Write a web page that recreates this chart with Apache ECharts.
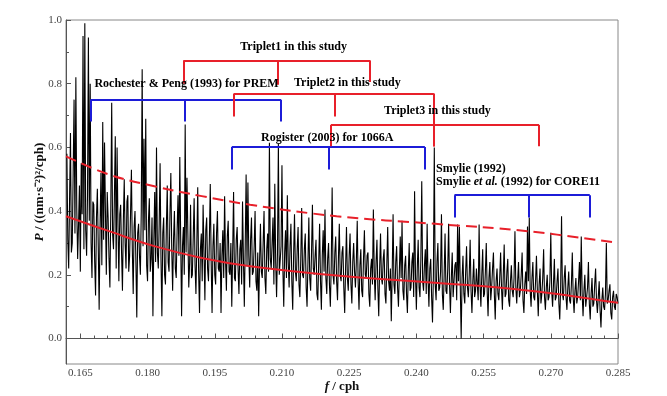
<!DOCTYPE html>
<html>
<head>
<meta charset="utf-8">
<script src="https://cdn.jsdelivr.net/npm/echarts@6/dist/echarts.min.js"></script>
<style>
  html, body { margin: 0; padding: 0; background: #fff; }
  #chart { width: 667px; height: 396px; }
</style>
</head>
<body>
<div id="chart"></div>
<script>
// spectrum: evenly spaced frequency bins (cph), power
const freqStart = 0.162;
const freqStep = 0.0002;
const power = [
  0.58, 0.31, 0.22, 0.44, 0.645, 0.27, 0.30, 0.52, 0.75, 0.33, 0.82, 0.41, 0.25, 0.36, 0.48, 0.21, 0.55, 0.39, 0.95, 0.28,
  0.99, 0.34, 0.26, 0.45, 0.945, 0.37, 0.80, 0.30, 0.19, 0.43, 0.42, 0.24, 0.135, 0.38, 0.47, 0.29, 0.09, 0.35, 0.52, 0.23,
  0.68, 0.31, 0.615, 0.40, 0.20, 0.46, 0.38, 0.25, 0.16, 0.41, 0.74, 0.33, 0.28, 0.44, 0.635, 0.22, 0.60, 0.36, 0.18, 0.39,
  0.42, 0.27, 0.15, 0.37, 0.50, 0.30, 0.22, 0.43, 0.45, 0.21, 0.26, 0.39, 0.53, 0.28, 0.14, 0.35, 0.40, 0.24, 0.066, 0.33,
  0.36, 0.26, 0.20, 0.40, 0.845, 0.29, 0.627, 0.34, 0.69, 0.23, 0.18, 0.37, 0.44, 0.21, 0.25, 0.38, 0.07, 0.30, 0.46, 0.24,
  0.60, 0.27, 0.22, 0.36, 0.55, 0.25, 0.07, 0.33, 0.38, 0.20, 0.17, 0.35, 0.48, 0.24, 0.21, 0.39, 0.52, 0.28, 0.15, 0.31,
  0.40, 0.22, 0.19, 0.34, 0.45, 0.26, 0.57, 0.31, 0.07, 0.29, 0.35, 0.20, 0.672, 0.27, 0.505, 0.33, 0.16, 0.24, 0.42, 0.19,
  0.20, 0.32, 0.44, 0.23, 0.14, 0.30, 0.475, 0.21, 0.08, 0.28, 0.33, 0.18, 0.42, 0.27, 0.12, 0.34, 0.38, 0.22, 0.18, 0.31,
  0.485, 0.24, 0.08, 0.29, 0.36, 0.20, 0.17, 0.33, 0.40, 0.22, 0.21, 0.30, 0.08, 0.26, 0.34, 0.19, 0.447, 0.25, 0.15, 0.32,
  0.37, 0.21, 0.20, 0.30, 0.10, 0.27, 0.46, 0.19, 0.18, 0.31, 0.35, 0.22, 0.14, 0.28, 0.31, 0.17, 0.43, 0.25, 0.10, 0.29,
  0.515, 0.23, 0.49, 0.26, 0.16, 0.31, 0.38, 0.20, 0.21, 0.29, 0.40, 0.18, 0.15, 0.27, 0.07, 0.24, 0.36, 0.21, 0.19, 0.30,
  0.40, 0.19, 0.14, 0.28, 0.33, 0.21, 0.615, 0.25, 0.22, 0.30, 0.38, 0.17, 0.486, 0.24, 0.13, 0.27, 0.612, 0.20, 0.20, 0.29,
  0.544, 0.22, 0.10, 0.27, 0.34, 0.19, 0.45, 0.24, 0.16, 0.29, 0.36, 0.18, 0.09, 0.26, 0.39, 0.21, 0.18, 0.28, 0.35, 0.17,
  0.13, 0.25, 0.41, 0.20, 0.19, 0.28, 0.33, 0.16, 0.10, 0.24, 0.38, 0.19, 0.15, 0.27, 0.42, 0.22, 0.20, 0.26, 0.31, 0.14,
  0.12, 0.24, 0.36, 0.18, 0.09, 0.26, 0.34, 0.21, 0.405, 0.19, 0.14, 0.25, 0.30, 0.17, 0.10, 0.23, 0.474, 0.20, 0.17, 0.27,
  0.32, 0.18, 0.12, 0.25, 0.36, 0.20, 0.18, 0.27, 0.29, 0.16, 0.08, 0.22, 0.35, 0.19, 0.15, 0.26, 0.33, 0.17, 0.11, 0.24,
  0.30, 0.21, 0.16, 0.24, 0.37, 0.18, 0.09, 0.23, 0.28, 0.15, 0.13, 0.25, 0.34, 0.20, 0.19, 0.26, 0.27, 0.14, 0.10, 0.22,
  0.25, 0.17, 0.405, 0.21, 0.12, 0.24, 0.31, 0.16, 0.07, 0.22, 0.33, 0.19, 0.17, 0.25, 0.28, 0.14, 0.11, 0.23, 0.35, 0.18,
  0.15, 0.22, 0.054, 0.20, 0.39, 0.17, 0.14, 0.24, 0.29, 0.16, 0.10, 0.21, 0.32, 0.19, 0.37, 0.15, 0.12, 0.23, 0.26, 0.14,
  0.08, 0.21, 0.30, 0.15, 0.16, 0.24, 0.27, 0.13, 0.462, 0.20, 0.09, 0.22, 0.31, 0.16, 0.13, 0.25, 0.494, 0.18, 0.15, 0.23,
  0.28, 0.14, 0.36, 0.19, 0.10, 0.22, 0.25, 0.13, 0.05, 0.20, 0.60, 0.17, 0.12, 0.24, 0.30, 0.15, 0.16, 0.21, 0.39, 0.14,
  0.09, 0.20, 0.33, 0.15, 0.14, 0.22, 0.36, 0.17, 0.08, 0.19, 0.27, 0.13, 0.18, 0.23, 0.24, 0.12, 0.358, 0.18, 0.35, 0.16,
  0.0, 0.19, 0.26, 0.14, 0.11, 0.21, 0.29, 0.16, 0.13, 0.20, 0.31, 0.15, 0.08, 0.18, 0.25, 0.13, 0.15, 0.22, 0.22, 0.12,
  0.358, 0.17, 0.10, 0.20, 0.28, 0.13, 0.14, 0.21, 0.30, 0.15, 0.07, 0.19, 0.24, 0.12, 0.16, 0.22, 0.27, 0.14, 0.06, 0.18,
  0.22, 0.14, 0.12, 0.19, 0.27, 0.16, 0.09, 0.20, 0.295, 0.13, 0.14, 0.21, 0.25, 0.12, 0.10, 0.18, 0.23, 0.15, 0.13, 0.19,
  0.337, 0.16, 0.11, 0.18, 0.24, 0.13, 0.15, 0.20, 0.27, 0.12, 0.08, 0.17, 0.21, 0.14, 0.352, 0.18, 0.38, 0.15, 0.10, 0.19,
  0.24, 0.13, 0.12, 0.18, 0.26, 0.15, 0.07, 0.17, 0.22, 0.11, 0.14, 0.19, 0.28, 0.13, 0.09, 0.16, 0.20, 0.12, 0.13, 0.18,
  0.332, 0.15, 0.10, 0.17, 0.25, 0.12, 0.13, 0.18, 0.22, 0.11, 0.06, 0.16, 0.384, 0.14, 0.12, 0.19, 0.23, 0.13, 0.09, 0.16,
  0.21, 0.12, 0.11, 0.17, 0.27, 0.13, 0.08, 0.15, 0.19, 0.11, 0.13, 0.18, 0.24, 0.12, 0.32, 0.14, 0.07, 0.15, 0.20, 0.10,
  0.10, 0.16, 0.24, 0.11, 0.06, 0.14, 0.19, 0.10, 0.11, 0.17, 0.22, 0.12, 0.08, 0.13, 0.18, 0.09, 0.035, 0.12, 0.16, 0.10,
  0.09, 0.14, 0.30, 0.11, 0.12, 0.15, 0.17, 0.08, 0.06, 0.13, 0.15, 0.10, 0.09, 0.14, 0.13, 0.11
];

// red curves (mean and threshold)
const meanCurve = [
  [0.1618, 0.384], [0.1714, 0.337], [0.1815, 0.290], [0.1921, 0.253],
  [0.2029, 0.227], [0.2235, 0.196], [0.2442, 0.175], [0.2648, 0.151], [0.285, 0.112]
];
const thresholdCurve = [
  [0.1618, 0.572], [0.1714, 0.515], [0.1815, 0.478], [0.1921, 0.447],
  [0.2029, 0.420], [0.2222, 0.384], [0.2442, 0.360], [0.2648, 0.337], [0.285, 0.300]
];

// mode triplet frequencies (cph)
const triplet1 = [0.1880, 0.2091, 0.2297];
const triplet2 = [0.1993, 0.2217, 0.2439];
const triplet3 = [0.2209, 0.2439, 0.2674];
const rochester = [0.1673, 0.1884, 0.2098];
const rogister = [0.1988, 0.2204, 0.2419];
const smylie = [0.2485, 0.2650, 0.2787];

const xTicks = [0.165, 0.180, 0.195, 0.210, 0.225, 0.240, 0.255, 0.270, 0.285];
const xMinorTicks = [0.168, 0.171, 0.174, 0.177, 0.183, 0.186, 0.189, 0.192, 0.198, 0.201, 0.204, 0.207,
  0.213, 0.216, 0.219, 0.222, 0.228, 0.231, 0.234, 0.237, 0.243, 0.246, 0.249, 0.252,
  0.258, 0.261, 0.264, 0.267, 0.273, 0.276, 0.279, 0.282];
const yTicks = [0.0, 0.2, 0.4, 0.6, 0.8, 1.0];
const yMinorTicks = [0.1, 0.3, 0.5, 0.7, 0.9];

const RED = "#e8202a";
const BLUE = "#1c1cd8";
const SERIF = "'Liberation Serif', 'Times New Roman', serif";

const spectrum = power.map((p, i) => [+(freqStart + i * freqStep).toFixed(4), p]);

// bracket: top bar + three stems
function bracket(f, top, bottoms) {
  return [
    [{ coord: [f[0], top] }, { coord: [f[2], top] }],
    [{ coord: [f[0], top] }, { coord: [f[0], bottoms[0]] }],
    [{ coord: [f[1], top] }, { coord: [f[1], bottoms[1]] }],
    [{ coord: [f[2], top] }, { coord: [f[2], bottoms[2]] }],
  ];
}

const redBrackets = [
  ...bracket(triplet1, 0.873, [0.80, 0.797, 0.805]),
  ...bracket(triplet2, 0.769, [0.697, 0.697, 0.603]),
  ...bracket(triplet3, 0.670, [0.604, 0.604, 0.604]),
];
const blueBrackets = [
  ...bracket(rochester, 0.750, [0.681, 0.681, 0.681]),
  ...bracket(rogister, 0.601, [0.531, 0.531, 0.531]),
  ...bracket(smylie, 0.450, [0.380, 0.380, 0.380]),
];

const labelFont = { fontFamily: SERIF, fontWeight: "bold", fontSize: 12, color: "#000" };
const notes = [
  { value: [0.2126, 0.914], text: "Triplet1 in this study", align: "center" },
  { value: [0.1887, 0.800], text: "Rochester & Peng (1993) for PREM", align: "center" },
  { value: [0.2246, 0.804], text: "Triplet2 in this study", align: "center" },
  { value: [0.2447, 0.716], text: "Triplet3 in this study", align: "center" },
  { value: [0.2201, 0.631], text: "Rogister (2003) for 1066A", align: "center" },
  { value: [0.2444, 0.531], text: "Smylie (1992)", align: "left" },
  { value: [0.2444, 0.491], text: "Smylie {i|et al.} (1992) for CORE11", align: "left" },
];

const chart = echarts.init(document.getElementById("chart"));

const nameStyle = {
  fontFamily: SERIF, fontWeight: "bold", fontSize: 13, color: "#111",
  rich: { i: { fontFamily: SERIF, fontWeight: "bold", fontStyle: "italic", fontSize: 13, color: "#111" } },
};

const option = {
  animation: false,
  backgroundColor: "#fff",
  grid: {
    left: 66, right: 49, top: 20, bottom: 32,
    outerBoundsMode: "none",
    show: true, borderColor: "#888", borderWidth: 1,
  },
  xAxis: [
    {
      type: "value",
      min: 0.1618,
      max: 0.285,
      name: "{i|f} / cph",
      nameLocation: "middle",
      nameGap: 16,
      nameMoveOverlap: false,
      nameTextStyle: { ...nameStyle, verticalAlign: "top" },
      axisLine: { show: true, lineStyle: { color: "#555" } },
      axisTick: { inside: true, length: 5, customValues: xTicks, lineStyle: { color: "#555" } },
      axisLabel: {
        customValues: xTicks, formatter: (v) => v.toFixed(3),
        fontFamily: SERIF, fontSize: 11, color: "#444", margin: 4,
      },
      splitLine: { show: false },
    },
    {
      type: "value",
      min: 0.1618,
      max: 0.285,
      position: "bottom",
      axisLine: { show: false },
      axisTick: { inside: true, length: 3, customValues: xMinorTicks, lineStyle: { color: "#555" } },
      axisLabel: { show: false },
      splitLine: { show: false },
    },
  ],
  yAxis: [
    {
      type: "value",
      min: -0.08,
      max: 1.0,
      name: "{i|P} / ((nm·s⁻²)²/cph)",
      nameLocation: "middle",
      nameGap: 20,
      nameMoveOverlap: false,
      nameTextStyle: nameStyle,
      axisLine: { show: true, lineStyle: { color: "#555" } },
      axisTick: { inside: true, length: 5, customValues: yTicks, lineStyle: { color: "#555" } },
      axisLabel: {
        customValues: yTicks, formatter: (v) => v.toFixed(1),
        fontFamily: SERIF, fontSize: 11, color: "#444", margin: 4,
      },
      splitLine: { show: false },
    },
    {
      type: "value",
      min: -0.08,
      max: 1.0,
      position: "left",
      axisLine: { show: false },
      axisTick: { inside: true, length: 3, customValues: yMinorTicks, lineStyle: { color: "#555" } },
      axisLabel: { show: false },
      splitLine: { show: false },
    },
  ],
  series: [
    {
      name: "spectrum",
      type: "line",
      data: spectrum,
      smooth: false,
      showSymbol: false,
      lineStyle: { color: "#000", width: 1.1 },
      z: 2,
      markLine: {
        silent: true,
        symbol: ["none", "none"],
        label: { show: false },
        lineStyle: { color: BLUE, width: 2, type: "solid" },
        data: blueBrackets,
      },
    },
    {
      name: "mean",
      type: "line",
      data: meanCurve,
      smooth: 0.4,
      showSymbol: false,
      lineStyle: { color: RED, width: 2 },
      z: 3,
      markLine: {
        silent: true,
        symbol: ["none", "none"],
        label: { show: false },
        lineStyle: { color: RED, width: 2, type: "solid" },
        data: redBrackets,
      },
    },
    {
      name: "threshold",
      type: "line",
      data: thresholdCurve,
      smooth: 0.4,
      showSymbol: false,
      lineStyle: { color: RED, width: 2, type: [11, 6] },
      z: 3,
    },
    {
      name: "notes",
      type: "scatter",
      symbolSize: 0,
      silent: true,
      itemStyle: { opacity: 1 },
      z: 5,
      data: notes.map((n) => ({
        value: n.value,
        label: {
          show: true,
          position: "inside",
          align: n.align,
          verticalAlign: "middle",
          formatter: n.text,
          ...labelFont,
          rich: { i: { ...labelFont, fontStyle: "italic" } },
        },
      })),
    },
  ],
};

chart.setOption(option);
</script>
</body>
</html>
